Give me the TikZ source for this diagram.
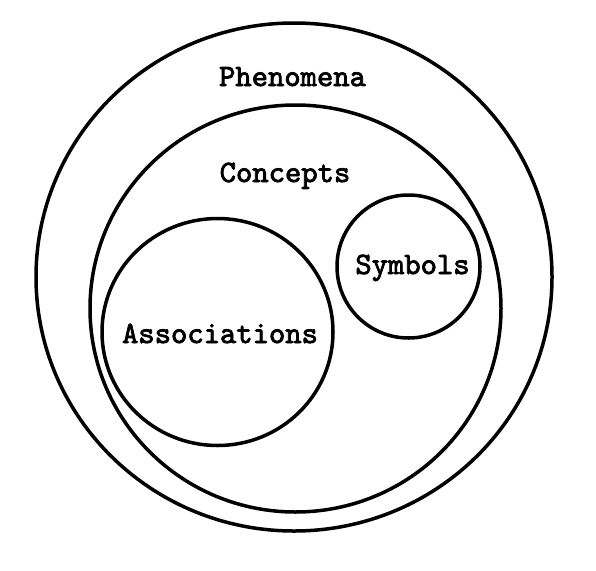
\documentclass[tikz,border=0pt]{standalone}
\usepackage{fontspec}
\usepackage{tikz}
\usetikzlibrary{positioning}
\newfontfamily\lblfont{lmmono10-regular.otf}[FakeBold=2.5]

\begin{document}
\begin{tikzpicture}[x=1pt, y=-1pt, line width=3.5pt,
    lbl/.style={inner sep=0pt, anchor=base, font=\lblfont\bfseries\fontsize{31.1}{36}\selectfont}]
    \useasboundingbox (0,0) rectangle (596,570);

    % Circles
    \foreach \cx/\cy/\rx/\ry in {294/277/258/254, 295.5/308.5/205.5/203.5,
                                 217.5/332/115.5/113.5, 408.5/266.5/71.5/71.5} {
        \draw (\cx,\cy) ellipse [x radius=\rx, y radius=\ry];
    }

    % Labels
    \node[lbl] (phen) at (292.5,86) {Phenomena};
    \node[lbl] (conc) at (285,182) {Concepts};
    \node[lbl] (assoc) at (220,343) {Associations};
    \node[lbl] (symb) at (412.5,274) {Symbols};

\end{tikzpicture}
\end{document}
